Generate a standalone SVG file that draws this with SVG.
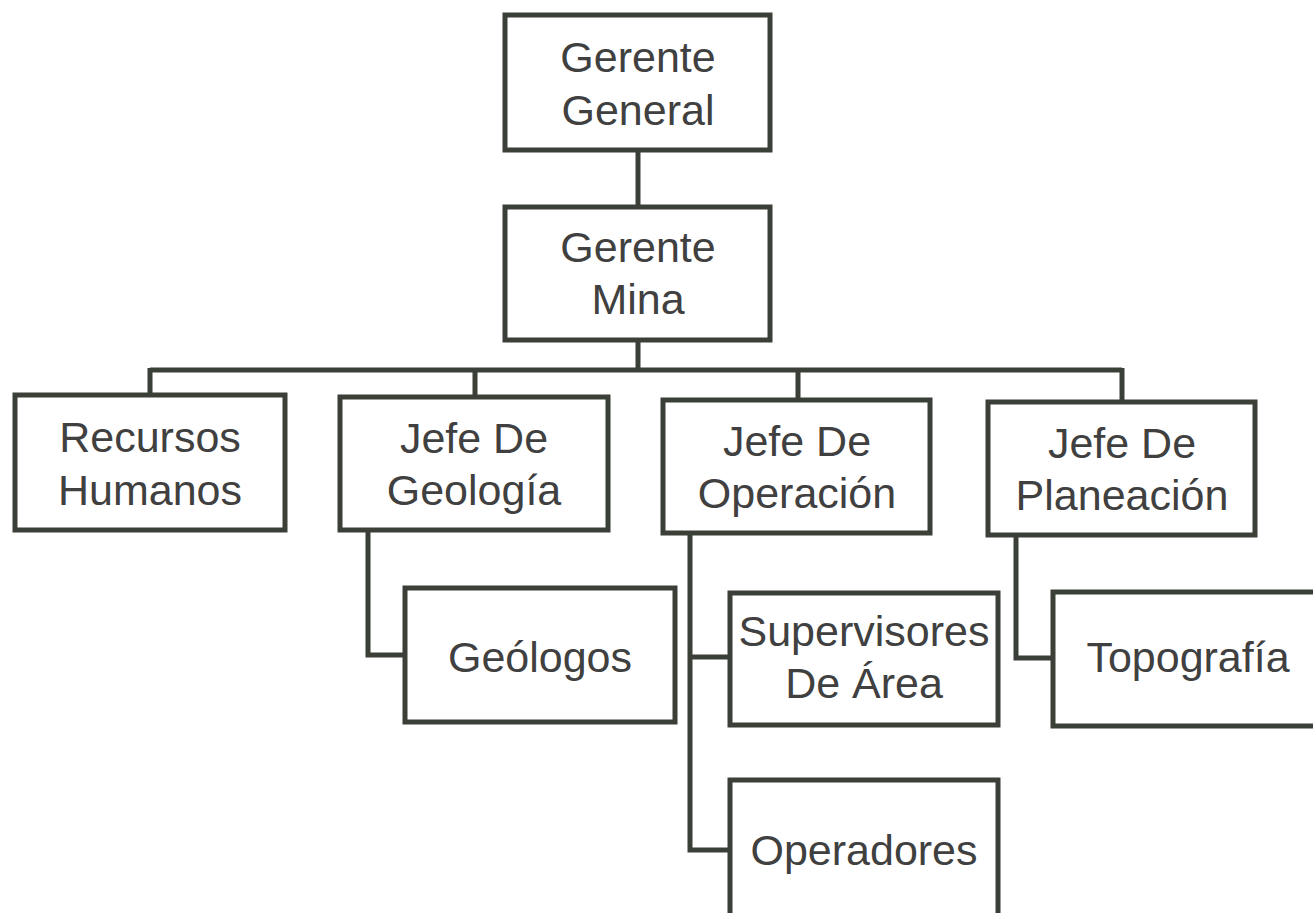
<svg xmlns="http://www.w3.org/2000/svg" width="1313" height="913" viewBox="0 0 1313 913">
<style>
.box{fill:#ffffff;stroke:#3a3f38;stroke-width:5}
.ln{fill:none;stroke:#3a3f38;stroke-width:5}
text{font-family:"Liberation Sans",Arial,sans-serif;font-size:43px;fill:#404040;text-anchor:middle}
</style>
<rect width="1313" height="913" fill="#ffffff"/>
<g id="connectors">
<path class="ln" d="M638 150V207"/>
<path class="ln" d="M638 340V370M150 370H1122M150 368V395M475 368V397M798 368V400M1122 368V402"/>
<path class="ln" d="M368 530V655H405"/>
<path class="ln" d="M690 533V850H730M690 657H730"/>
<path class="ln" d="M1016 535V658H1053"/>
</g>
<g id="gerente-general"><rect class="box" x="505" y="15" width="265" height="135"/><text x="638" y="72">Gerente</text><text x="638" y="125">General</text></g>
<g id="gerente-mina"><rect class="box" x="505" y="207" width="265" height="133"/><text x="638" y="262">Gerente</text><text x="638" y="314">Mina</text></g>
<g id="recursos-humanos"><rect class="box" x="15" y="395" width="270" height="135"/><text x="150" y="452">Recursos</text><text x="150" y="505">Humanos</text></g>
<g id="jefe-geologia"><rect class="box" x="340" y="397" width="268" height="133"/><text x="474" y="453">Jefe De</text><text x="474" y="505">Geología</text></g>
<g id="jefe-operacion"><rect class="box" x="663" y="400" width="267" height="133"/><text x="797" y="456">Jefe De</text><text x="797" y="508">Operación</text></g>
<g id="jefe-planeacion"><rect class="box" x="988" y="402" width="267" height="133"/><text x="1122" y="458">Jefe De</text><text x="1122" y="510">Planeación</text></g>
<g id="geologos"><rect class="box" x="405" y="588" width="270" height="134"/><text x="540" y="672">Geólogos</text></g>
<g id="supervisores"><rect class="box" x="730" y="593" width="268" height="132"/><text x="864" y="646">Supervisores</text><text x="864" y="698">De Área</text></g>
<g id="operadores"><rect class="box" x="730" y="780" width="268" height="140"/><text x="864" y="865">Operadores</text></g>
<g id="topografia"><rect class="box" x="1053" y="592" width="275" height="134"/><text x="1188" y="672">Topografía</text></g>
</svg>
